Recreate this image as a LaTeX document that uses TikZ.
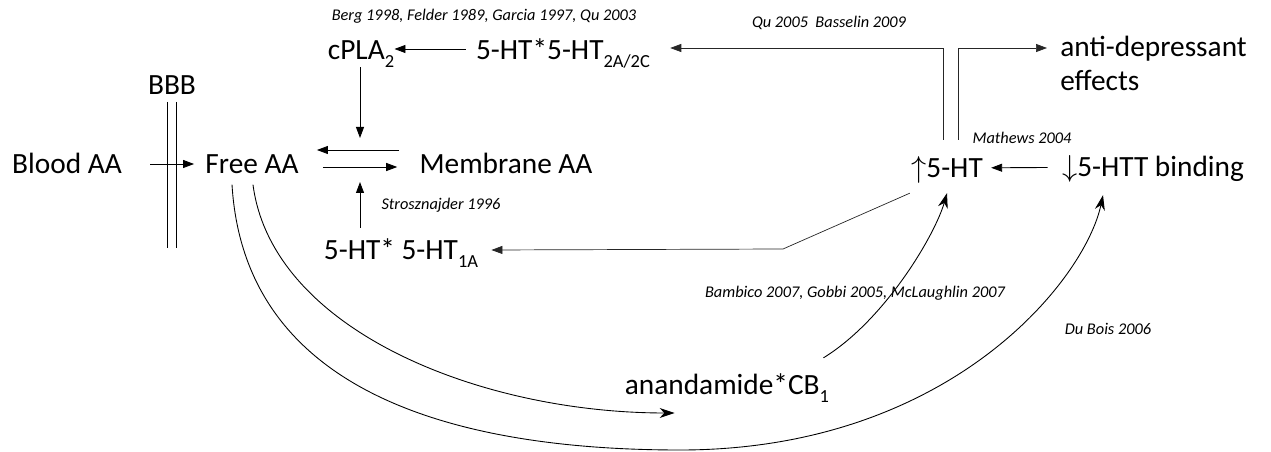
\documentclass[tikz,border=0pt]{standalone}
\usepackage{fontspec}
\setmainfont{Carlito}
\usetikzlibrary{arrows.meta,calc}

\newcommand{\lsub}[1]{\raisebox{-4.5pt}{\fontsize{10.5}{11}\selectfont #1}}

\begin{document}
\begin{tikzpicture}[
    x=0.02cm, y=-0.02cm,
    term/.style={font=\fontsize{16.7}{19.4}\selectfont, inner sep=0pt, text height=10.6pt, text depth=0pt},
    cite/.style={font=\fontsize{9.3}{11}\selectfont\itshape, inner sep=0pt},
    arr/.style={-{Triangle[length=2.2mm,width=1.6mm]}, line width=0.5pt},
    curvearr/.style={-{Stealth[length=3mm,width=2mm]}, line width=0.5pt},
    thinline/.style={line width=0.4pt, black!85}
]
\useasboundingbox (0,0) rectangle (1271,452);

% terms
\node[term] (blood) at (67,164) {Blood AA};
\node[term] (bbb) at (172,85) {BBB};
\node[term] (free) at (252,164) {Free AA};
\node[term] (memb) at (506,164) {Membrane AA};
\node[term] (cpla) at (361,50) {cPLA\lsub{2}};
\node[term] (ht2a) at (563,50) {5-HT*5-HT\lsub{2A/2C}};
\node[term] (ht1a) at (401,250) {5-HT* 5-HT\lsub{1A}};
\node[term] (anand) at (727,385) {anandamide*CB\lsub{1}};
\node[term] (ht) at (947,168) {$\uparrow$5-HT};
\node[term] (htt) at (1153,167) {$\downarrow$5-HTT binding};
\node[term, align=left, anchor=west] (anti) at (1060,81) {anti-depressant\\effects};

% references
\node[cite] (cberg) at (484,16) {Berg 1998, Felder 1989, Garcia 1997, Qu 2003};
\node[cite] (cqu) at (829,23) {Qu 2005~~Basselin 2009};
\node[cite] (cmat) at (1022,138) {Mathews 2004};
\node[cite] (cstr) at (441,205) {Strosznajder 1996};
\node[cite] (cbam) at (855,293) {Bambico 2007, Gobbi 2005, McLaughlin 2007};
\node[cite] (cdub) at (1108,329) {Du Bois 2006};

\coordinate (eqtop) at (360,138);
\coordinate (eqbot) at (360,182);
\coordinate (kink) at (783,249);
\coordinate (low) at (680,450);
\coordinate (antiin) at (anti.west |- ht2a.east);

% blood brain barrier
\draw[line width=0.5pt] (167,102) -- (167,248) (176,102) -- (176,248);

\draw[arr, shorten <=0.56cm, shorten >=0.22cm] (blood) -- (free);
\draw[arr, shorten <=0.4cm, shorten >=0.36cm] ([yshift=0.28cm]memb.west) -- ([yshift=0.28cm]free.east);
\draw[arr, shorten <=0.48cm, shorten >=0.44cm] ([yshift=-0.06cm]free.east) -- ([yshift=-0.06cm]memb.west);
\draw[arr, shorten <=0.15cm] (cpla.south -| eqtop) -- (eqtop);
\draw[arr, shorten <=0.25cm] (ht1a.north -| eqbot) -- (eqbot);
\draw[arr] ([xshift=-0.2cm,yshift=0.02cm]ht2a.west) -- ([yshift=0.02cm]cpla.east);

\draw[arr, thinline] ([xshift=-0.08cm,yshift=0.37cm]ht.north) |- ([xshift=0.4cm,yshift=0.04cm]ht2a.east);
\draw[arr, thinline, shorten >=0.26cm] ([xshift=0.22cm,yshift=0.37cm]ht.north) |- ([yshift=0.04cm]antiin);
\draw[arr, shorten <=0.28cm, shorten >=0.16cm] (htt) -- (ht);
\draw[arr, thinline] ([shift={(-0.02cm,-0.31cm)}]ht.south west) -- (kink) -- ([xshift=0.26cm]ht1a.east);

% curved pathways
\draw[curvearr] ([shift={(0.02cm,-0.22cm)}]free.south) .. controls (272,330) and (480,413) .. ([shift={(1cm,-0.56cm)}]anand.west);
\draw[curvearr] ([shift={(-0.4cm,-0.22cm)}]free.south) .. controls (245,400) and (470,450) .. (low)
    .. controls (950,450) and (1085,280) .. ([shift={(-1cm,-0.37cm)}]htt.south);
\draw[curvearr] ([shift={(-0.12cm,0.35cm)}]anand.north east) .. controls (885,320) and (935,235) .. ([yshift=-0.31cm]ht.south);
\end{tikzpicture}
\end{document}
